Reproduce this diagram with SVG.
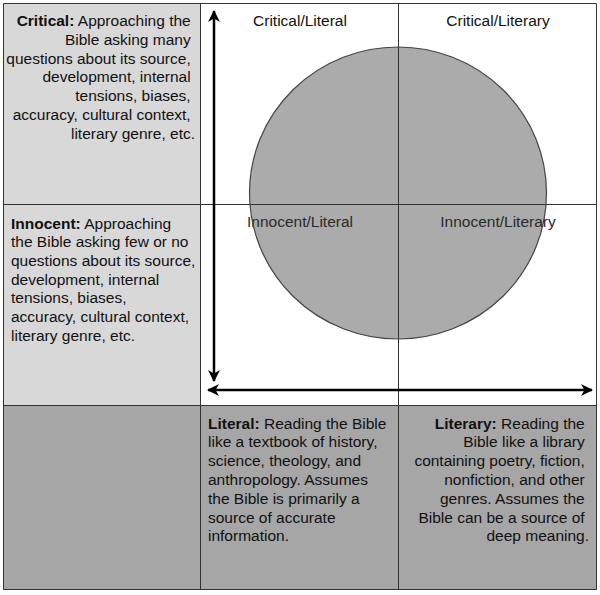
<svg xmlns="http://www.w3.org/2000/svg" width="600" height="595" viewBox="0 0 600 595">
<defs>
<style>
.t{font-family:"Liberation Sans",Arial,Helvetica,sans-serif;font-size:15.5px;fill:#111}
.b{font-weight:bold}
.grid{stroke:#333;stroke-width:1;fill:none}
.ax{stroke:#000;stroke-width:2.5;fill:none}
</style>
<marker id="ah" viewBox="0 0 12 12" refX="11" refY="6" markerWidth="12" markerHeight="12" markerUnits="userSpaceOnUse" orient="auto-start-reverse">
<path d="M0,0 L12,6 L0,12 L3.5,6 Z" fill="#000"/>
</marker>
</defs>
<rect x="0" y="0" width="600" height="595" fill="#fff"/>
<g id="cell-critical">
<rect x="3.5" y="3.5" width="197" height="201" fill="#d8d8d8"/>
<text class="t" text-anchor="end">
<tspan x="195" y="26"><tspan class="b">Critical:</tspan> Approaching the</tspan>
<tspan x="195" y="44.8">Bible asking many</tspan>
<tspan x="195" y="63.6">questions about its source,</tspan>
<tspan x="195" y="82.4">development, internal</tspan>
<tspan x="195" y="101.2">tensions, biases,</tspan>
<tspan x="195" y="120">accuracy, cultural context,</tspan>
<tspan x="195" y="138.8">literary genre, etc.</tspan>
</text>
</g>
<g id="cell-innocent">
<rect x="3.5" y="204.5" width="197" height="201" fill="#d8d8d8"/>
<text class="t">
<tspan x="11" y="228.5"><tspan class="b">Innocent:</tspan> Approaching</tspan>
<tspan x="11" y="247.2">the Bible asking few or no</tspan>
<tspan x="11" y="265.9">questions about its source,</tspan>
<tspan x="11" y="284.6">development, internal</tspan>
<tspan x="11" y="303.3">tensions, biases,</tspan>
<tspan x="11" y="322">accuracy, cultural context,</tspan>
<tspan x="11" y="340.7">literary genre, etc.</tspan>
</text>
</g>
<g id="cell-empty">
<rect x="3.5" y="405.5" width="197" height="184" fill="#a6a6a6"/>
</g>
<g id="cell-literal">
<rect x="200.5" y="405.5" width="198" height="184" fill="#a6a6a6"/>
<text class="t">
<tspan x="208" y="428.5"><tspan class="b">Literal:</tspan> Reading the Bible</tspan>
<tspan x="208" y="447.3">like a textbook of history,</tspan>
<tspan x="208" y="466.1">science, theology, and</tspan>
<tspan x="208" y="484.9">anthropology. Assumes</tspan>
<tspan x="208" y="503.7">the Bible is primarily a</tspan>
<tspan x="208" y="522.5">source of accurate</tspan>
<tspan x="208" y="541.3">information.</tspan>
</text>
</g>
<g id="cell-literary">
<rect x="398.5" y="405.5" width="198" height="184" fill="#a6a6a6"/>
<text class="t" text-anchor="end">
<tspan x="589" y="428.5"><tspan class="b">Literary:</tspan> Reading the</tspan>
<tspan x="589" y="447.3">Bible like a library</tspan>
<tspan x="589" y="466.1">containing poetry, fiction,</tspan>
<tspan x="589" y="484.9">nonfiction, and other</tspan>
<tspan x="589" y="503.7">genres. Assumes the</tspan>
<tspan x="589" y="522.5">Bible can be a source of</tspan>
<tspan x="589" y="541.3">deep meaning.</tspan>
</text>
</g>
<g id="circle-fill">
<ellipse cx="398" cy="193" rx="148.5" ry="146" fill="#ababab"/>
</g>
<g id="gridlines">
<path class="grid" d="M3.5,3.5 H596.5 V589.5 H3.5 Z M200.5,3.5 V589.5 M398.5,3.5 V589.5 M3.5,204.5 H596.5 M3.5,405.5 H596.5"/>
</g>
<g id="quadrant-labels">
<text class="t" x="300" y="25.5" text-anchor="middle">Critical/Literal</text>
<text class="t" x="498" y="25.5" text-anchor="middle">Critical/Literary</text>
<text class="t" x="300" y="227" text-anchor="middle" style="fill:#2a2a2a">Innocent/Literal</text>
<text class="t" x="498" y="227" text-anchor="middle" style="fill:#2a2a2a">Innocent/Literary</text>
</g>
<g id="circle">
<ellipse cx="398" cy="193" rx="148.5" ry="146" fill="none" stroke="#444" stroke-width="1.2"/>
</g>
<g id="connectors">
<line class="ax" x1="214" y1="11" x2="214" y2="381" marker-start="url(#ah)" marker-end="url(#ah)"/>
<line class="ax" x1="208" y1="390" x2="592" y2="390" marker-start="url(#ah)" marker-end="url(#ah)"/>
</g>
</svg>
